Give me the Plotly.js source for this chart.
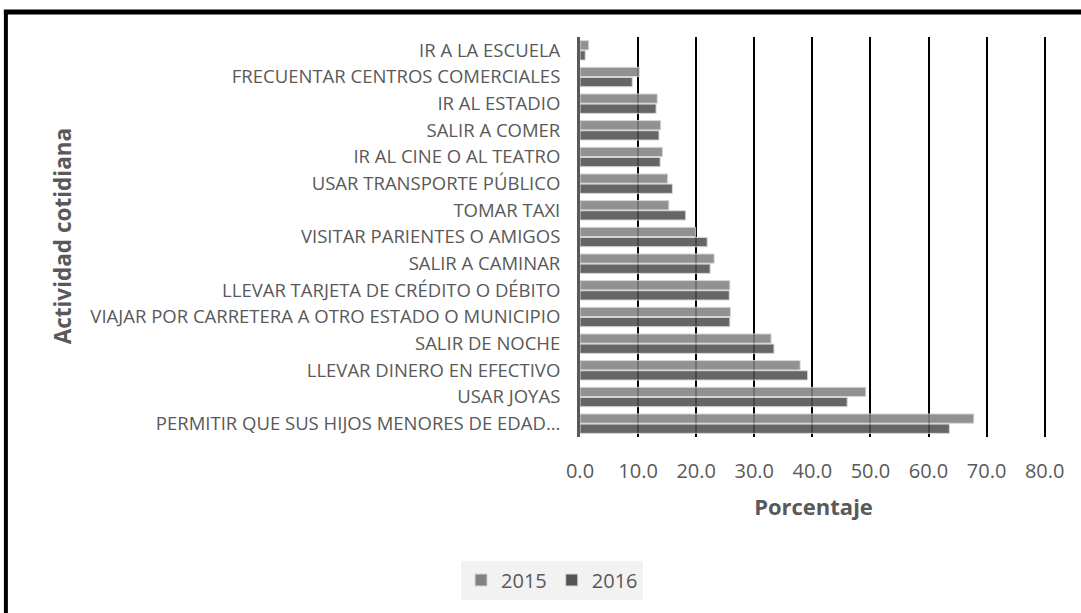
<!DOCTYPE html>
<html>
<head>
<meta charset="utf-8">
<script src="https://cdn.plot.ly/plotly-3.0.1.min.js"></script>
<style>
  html, body { margin: 0; padding: 0; background: #ffffff; }
  #chart { width: 1081px; height: 613px; }
</style>
</head>
<body>
<div id="chart"></div>
<script>
// Categories, top to bottom as in the reference
const categories = [
  "IR A LA ESCUELA",
  "FRECUENTAR CENTROS COMERCIALES",
  "IR AL ESTADIO",
  "SALIR A COMER",
  "IR AL CINE O AL TEATRO",
  "USAR TRANSPORTE PÚBLICO",
  "TOMAR TAXI",
  "VISITAR PARIENTES O AMIGOS",
  "SALIR A CAMINAR",
  "LLEVAR TARJETA DE CRÉDITO O DÉBITO",
  "VIAJAR POR CARRETERA A OTRO ESTADO O MUNICIPIO",
  "SALIR DE NOCHE",
  "LLEVAR DINERO EN EFECTIVO",
  "USAR JOYAS",
  "PERMITIR QUE SUS HIJOS MENORES DE EDAD…"
];
const values2015 = [1.5, 10.2, 13.3, 13.9, 14.2, 15.1, 15.3, 19.9, 23.1, 25.8, 25.9, 32.9, 37.9, 49.2, 67.8];
const values2016 = [0.9, 9.0, 13.1, 13.6, 13.8, 15.9, 18.2, 21.9, 22.4, 25.7, 25.8, 33.4, 39.2, 46.0, 63.6];
const seriesNames = ["2015", "2016"];
const xTicks = [0, 10, 20, 30, 40, 50, 60, 70, 80];
const xTickLabels = ["0.0", "10.0", "20.0", "30.0", "40.0", "50.0", "60.0", "70.0", "80.0"];

const FONT = "Open Sans, Lato, sans-serif";
const TXT = "#595959";

const traces = [
  {
    type: "bar", orientation: "h", name: seriesNames[0],
    y: categories, x: values2015,
    marker: { color: "#828282", opacity: 0.88, line: { color: "#d4d4d4", width: 1 } },
    hoverinfo: "x+y"
  },
  {
    type: "bar", orientation: "h", name: seriesNames[1],
    y: categories, x: values2016,
    marker: { color: "#525252", opacity: 0.88, line: { color: "#d4d4d4", width: 1 } },
    hoverinfo: "x+y"
  }
];

// plot area: x 0 at 580px, 80 at 1045px; y 37..437
const XMAX = 80.4;
const L = 580, PPU = (1045 - 580) / 80, R = L + XMAX * PPU, T = 37, B = 437;
const px2x = p => (p - L) / (R - L);
const px2y = p => (B - p) / (B - T);

const layout = {
  width: 1081, height: 613,
  margin: { l: L, r: 1081 - R, t: T, b: 613 - B, pad: 0 },
  paper_bgcolor: "#ffffff", plot_bgcolor: "#ffffff",
  barmode: "group", bargap: 0.24, bargroupgap: 0.08,
  font: { family: FONT, color: TXT },
  showlegend: true,
  legend: {
    orientation: "h", traceorder: "normal",
    x: px2x(552), xanchor: "center", xref: "paper",
    y: px2y(580), yanchor: "middle", yref: "paper",
    bgcolor: "#f2f2f2", borderwidth: 0,
    font: { family: FONT, size: 20, color: TXT },
    itemwidth: 30
  },
  xaxis: {
    range: [0, XMAX], tickvals: xTicks, ticktext: xTickLabels,
    showgrid: true, gridcolor: "#000000", gridwidth: 2,
    zeroline: false, showline: false, ticks: "",
    ticklabelstandoff: 20,
    tickfont: { family: FONT, size: 20, color: TXT },
    title: { text: "Porcentaje", font: { family: FONT, size: 22, color: TXT, weight: "bold" }, standoff: 16 },
    fixedrange: true
  },
  yaxis: {
    type: "category", autorange: "reversed",
    showgrid: false, zeroline: false,
    showline: true, linecolor: "#595959", linewidth: 3,
    ticks: "", ticklabelstandoff: 13,
    tickfont: { family: FONT, size: 18.5, color: TXT },
    title: { text: "" },
    fixedrange: true
  },
  annotations: [
    {
      text: "<b>Actividad cotidiana</b>", textangle: -90,
      xref: "paper", yref: "paper", x: px2x(62), y: px2y(236),
      xanchor: "center", yanchor: "middle", showarrow: false,
      font: { family: FONT, size: 22.5, color: TXT }
    }
  ],
  shapes: [
    { type: "line", xref: "paper", yref: "paper", layer: "above",
      x0: px2x(5.5), x1: px2x(5.5), y0: px2y(10), y1: px2y(640),
      line: { color: "#000000", width: 4 } },
    { type: "line", xref: "paper", yref: "paper", layer: "above",
      x0: px2x(3.5), x1: px2x(1100), y0: px2y(12), y1: px2y(12),
      line: { color: "#000000", width: 5 } }
  ]
};

Plotly.newPlot("chart", traces, layout, { displayModeBar: false, staticPlot: true });
</script>
</body>
</html>
